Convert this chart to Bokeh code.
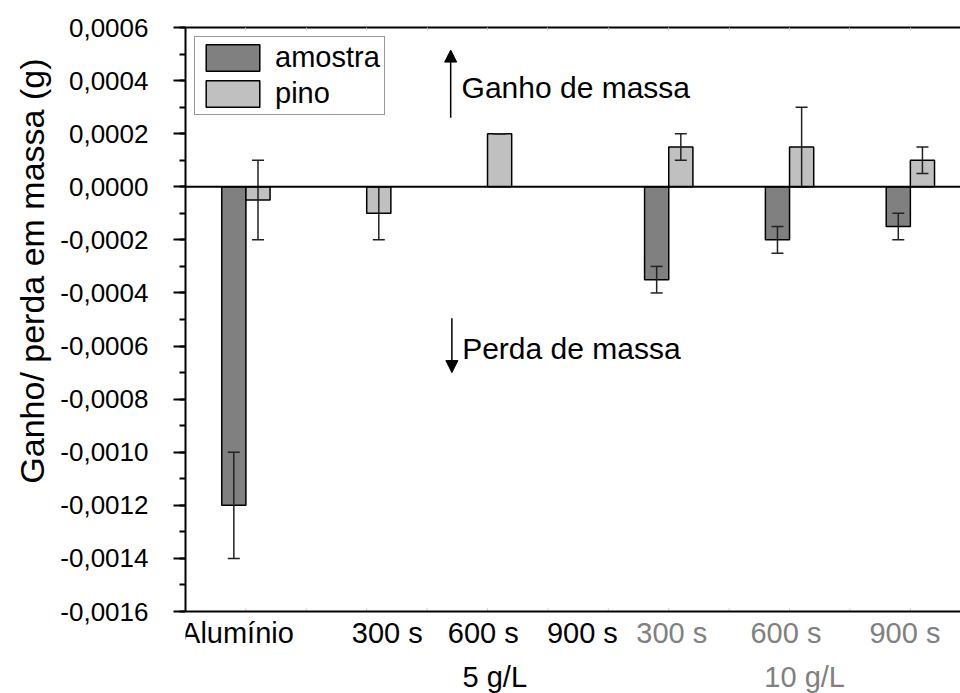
from bokeh.plotting import figure
from bokeh.models import (ColumnDataSource, Range1d, LinearAxis, FixedTicker,
                          CustomJSTickFormatter, Whisker, TeeHead, Span,
                          Label, Arrow, NormalHead, Legend, Title)
from bokeh.transform import dodge
from bokeh.core.properties import value
from bokeh.embed import file_html
from bokeh.resources import INLINE

# ---- data -----------------------------------------------------------------
group_labels = ["Alumínio", "300 s", "600 s", "900 s", "300 s", "600 s", "900 s"]
group_x = [1, 3, 5, 7, 8, 10, 12]
concentration_labels = ["5 g/L", "10 g/L"]

amostra = [-0.0012, None, None, None, -0.00035, -0.0002, -0.00015]
amostra_err = [0.0002, None, None, None, 0.00005, 0.00005, 0.00005]
pino = [-0.00005, -0.0001, 0.0002, None, 0.00015, 0.00015, 0.0001]
pino_err = [0.00015, 0.0001, None, None, 0.00005, 0.00015, 0.00005]

Y_MIN, Y_MAX = -0.0016, 0.0006
y_major = [round(Y_MIN + 0.0002 * i, 4) for i in range(12)]
y_minor = [round(Y_MIN + 0.0001 * i, 4) for i in range(23)]
x_minor = list(range(0, 13))

FONT = "Liberation Sans"
DARK = "#808080"
LIGHT = "#c0c0c0"
GREY_TXT = "#808080"

# layout of the canvas (pixels)
W, H = 960, 693
TOP, AXIS_BOTTOM, LEFT = 27, 611, 185
PX_PER_UNIT = (AXIS_BOTTOM - TOP) / (Y_MAX - Y_MIN)
# the frame reaches the bottom of the canvas so the category labels live inside it
y_start = Y_MIN - (H - AXIS_BOTTOM) / PX_PER_UNIT


def px_below_axis(px):
    return Y_MIN - px / PX_PER_UNIT


def bar_source(vals, errs):
    xs, tops, lo, hi = [], [], [], []
    for x, v, e in zip(group_x, vals, errs):
        if v is None:
            continue
        xs.append(x)
        tops.append(v)
        e = e or 0.0
        lo.append(v - e)
        hi.append(v + e)
    return ColumnDataSource(dict(x=xs, top=tops, lower=lo, upper=hi))


src_a = bar_source(amostra, amostra_err)
src_p = bar_source(pino, pino_err)

x_range = Range1d(0, 12.83)

p = figure(width=W, height=H, output_backend="svg", toolbar_location=None,
           x_range=x_range, y_range=Range1d(y_start, Y_MAX),
           x_axis_location=None, y_axis_location=None,
           min_border_left=LEFT, min_border_right=0, min_border_top=TOP,
           min_border_bottom=0)
p.outline_line_color = None
p.grid.visible = False

# ---- axes -----------------------------------------------------------------
yaxis = LinearAxis(ticker=FixedTicker(ticks=y_major, minor_ticks=y_minor),
                   bounds=(Y_MIN, Y_MAX),
                   formatter=CustomJSTickFormatter(code="""
                       const v = Math.abs(tick) < 1e-12 ? 0 : tick;
                       return v.toFixed(4).replace('.', ',');
                   """))
yaxis.axis_line_width = 2
yaxis.axis_line_color = "black"
yaxis.major_tick_out = 12
yaxis.major_tick_in = 0
yaxis.minor_tick_out = 6
yaxis.minor_tick_in = 0
yaxis.major_tick_line_width = 2
yaxis.minor_tick_line_width = 2
yaxis.major_label_text_font = FONT
yaxis.major_label_text_font_size = "26px"
yaxis.major_label_text_color = "black"
yaxis.major_label_standoff = 25
p.add_layout(yaxis, "left")

# y axis title, anchored near the top of the axis
ytitle = Title(text="Ganho/ perda em massa (g)", align="right", offset=31,
               standoff=14, text_font=FONT, text_font_size="34px",
               text_font_style="normal", text_color="black")
p.add_layout(ytitle, "left")

# top frame line with small grey ticks at every unit
top_ax = LinearAxis(ticker=FixedTicker(ticks=[], minor_ticks=x_minor))
top_ax.axis_line_width = 2
top_ax.axis_line_color = "black"
top_ax.major_tick_in = 0
top_ax.major_tick_out = 0
top_ax.minor_tick_in = 3
top_ax.minor_tick_out = 0
top_ax.minor_tick_line_color = "#c8c8c8"
top_ax.minor_tick_line_width = 1
top_ax.major_label_standoff = 0
p.add_layout(top_ax, "above")

# bottom frame line with the same small grey ticks
p.add_layout(Span(location=Y_MIN, dimension="width", line_color="black",
                  line_width=2, level="overlay"))
p.segment(x0=x_minor, x1=x_minor, y0=[Y_MIN] * len(x_minor),
          y1=[Y_MIN + 3 / PX_PER_UNIT] * len(x_minor),
          line_color="#c8c8c8", line_width=1)

# ---- bars -----------------------------------------------------------------
r_a = p.vbar(x=dodge("x", -0.2, range=x_range), top="top", bottom=0, width=0.4,
             source=src_a, fill_color=DARK, line_color="black", line_width=1.5)
r_p = p.vbar(x=dodge("x", 0.2, range=x_range), top="top", bottom=0, width=0.4,
             source=src_p, fill_color=LIGHT, line_color="black", line_width=1.5)

for src, off in ((src_a, -0.2), (src_p, 0.2)):
    w = Whisker(base=dodge("x", off, range=x_range), lower="lower", upper="upper",
                source=src, line_color="#222222", line_width=1.5, level="overlay",
                upper_head=TeeHead(size=12, line_color="#222222", line_width=1.5),
                lower_head=TeeHead(size=12, line_color="#222222", line_width=1.5))
    p.add_layout(w)

p.add_layout(Span(location=0, dimension="width", line_color="black",
                  line_width=2, level="overlay"))

# ---- gain / loss annotations ----------------------------------------------
p.add_layout(Arrow(x_start=4.39, y_start=0.00026, x_end=4.39, y_end=0.000515,
                   line_width=1.5, line_color="black",
                   end=NormalHead(size=12, fill_color="black", line_color="black",
                                  line_width=1)))
p.add_layout(Arrow(x_start=4.41, y_start=-0.000495, x_end=4.41, y_end=-0.0007,
                   line_width=1.5, line_color="black",
                   end=NormalHead(size=12, fill_color="black", line_color="black",
                                  line_width=1)))
p.add_layout(Label(x=4.57, y=0.000374, text="Ganho de massa", text_font=FONT,
                   text_font_size="30px", text_baseline="middle", text_color="black"))
p.add_layout(Label(x=4.58, y=-0.000608, text="Perda de massa", text_font=FONT,
                   text_font_size="30px", text_baseline="middle", text_color="black"))

# ---- legend ---------------------------------------------------------------
legend = Legend(items=[("amostra", [r_a]), ("pino", [r_p])], location="top_left")
legend.glyph_width = 67
legend.glyph_height = 33
legend.label_height = 33
legend.label_standoff = 9
legend.spacing = 3
legend.padding = 4
legend.margin = 9
legend.label_text_font = FONT
legend.label_text_font_size = "29px"
legend.label_text_color = "black"
legend.border_line_color = "#333333"
legend.border_line_width = 1
p.add_layout(legend)

# ---- category labels under the axis line ------------------------------------
label_x = [0.86, 3.34, 4.93, 6.57, 8.05, 9.94, 11.91]
label_color = ["black"] * 4 + [GREY_TXT] * 3
conc_x = [5.12, 10.25]
conc_color = ["black", GREY_TXT]

p.text(x=label_x, y=[px_below_axis(21)] * len(label_x), text=group_labels,
       text_color=label_color, text_font=value(FONT), text_font_size=value("29px"),
       text_align="center", text_baseline="middle")
p.text(x=conc_x, y=[px_below_axis(65)] * len(conc_x), text=concentration_labels,
       text_color=conc_color, text_font=value(FONT), text_font_size=value("29px"),
       text_align="center", text_baseline="middle")

open("out.html", "w").write(file_html(p, INLINE))
